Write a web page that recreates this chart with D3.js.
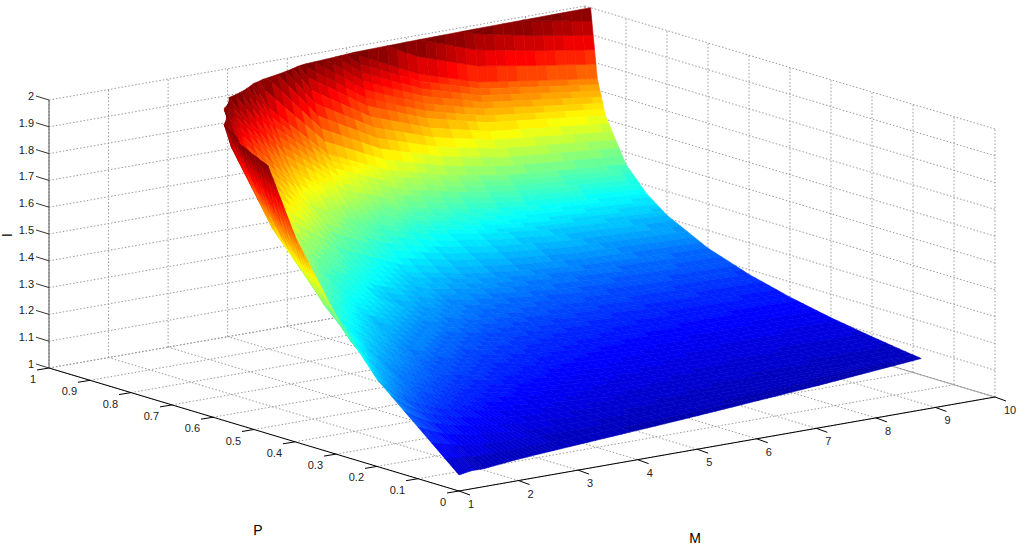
<!DOCTYPE html>
<html><head><meta charset="utf-8">
<script src="https://cdn.jsdelivr.net/npm/d3@7"></script>
<style>body{margin:0;background:#fff}text{font-family:"Liberation Sans",Arial,sans-serif}</style>
</head><body>
<svg id="c" width="1024" height="545"></svg>
<script>
// ---- data ----
const mValues = [1,1.25,1.5,2,2.5,3,4,5,6,7,8,9,10];
const pStart  = [0,0.005,0.01,0.02,0.03,0.04,0.06,0.08,0.10,0.12,0.14,0.16,0.18];
const pRows   = [null,0.2,0.3,0.4,0.5,0.6,0.7,0.8,0.85,0.9,0.95,0.97,0.99,0.999];
const iValues = [
 [1.06,1.064,1.06,1.063,1.063,1.062,1.06,1.058,1.057,1.057,1.057,1.059,1.061],
 [1.325,1.267,1.227,1.177,1.151,1.129,1.105,1.090,1.081,1.074,1.070,1.067,1.065],
 [1.514,1.411,1.342,1.259,1.215,1.182,1.144,1.121,1.108,1.099,1.093,1.090,1.087],
 [1.767,1.595,1.488,1.359,1.295,1.246,1.191,1.158,1.140,1.128,1.120,1.116,1.112],
 [2.12,1.846,1.682,1.489,1.395,1.325,1.249,1.203,1.179,1.163,1.153,1.148,1.143],
 [2.65,2.21,1.953,1.665,1.529,1.429,1.323,1.261,1.229,1.208,1.195,1.188,1.182],
 [3.53,2.78,2.37,1.922,1.720,1.576,1.427,1.339,1.296,1.269,1.251,1.242,1.234],
 [5.3,3.84,3.1,2.35,2.03,1.809,1.585,1.458,1.397,1.360,1.335,1.323,1.311],
 [7.1,4.8,3.8,2.73,2.29,1.995,1.708,1.549,1.473,1.428,1.398,1.383,1.369],
 [10.6,6.7,4.9,3.33,2.71,2.29,1.898,1.687,1.588,1.530,1.492,1.473,1.455],
 [21,11.6,7.8,4.7,3.58,2.89,2.27,1.951,1.805,1.720,1.666,1.640,1.614],
 [35,17.5,11,6.1,4.4,3.47,2.58,2.17,1.984,1.877,1.808,1.775,1.743],
 [106,42,23,10.5,6.9,5.0,3.44,2.73,2.43,2.26,2.16,2.10,2.056],
 [1000,265,108,33,18,11,6.3,4.44,3.72,3.35,3.12,3.0,2.9]
];
const pTicks = [0,0.1,0.2,0.3,0.4,0.5,0.6,0.7,0.8,0.9,1];
const mTicks = [1,2,3,4,5,6,7,8,9,10];
const iTicks = [1,1.1,1.2,1.3,1.4,1.5,1.6,1.7,1.8,1.9,2];
const pTickLabels = ["0","0.1","0.2","0.3","0.4","0.5","0.6","0.7","0.8","0.9","1"];
const iTickLabels = ["1","1.1","1.2","1.3","1.4","1.5","1.6","1.7","1.8","1.9","2"];

// ---- projection via d3 scales ----
const O = [459,491];
const sP = d3.scaleLinear().domain([0,1]).range([0,1]);
const sM = d3.scaleLinear().domain([1,10]).range([0,1]);
const sI = d3.scaleLinear().domain([1,2]).range([0,1]);
const VP=[-410,-123], VM=[536,-94], VI=[0,-268];
function proj(p,m,i){const a=sP(p),b=sM(m),c=sI(i);
  return [O[0]+a*VP[0]+b*VM[0]+c*VI[0], O[1]+a*VP[1]+b*VM[1]+c*VI[1]];}
function depth(p,m,i){return 521*sP(p)+399*sM(m)-63*sI(i);}

const svg=d3.select("#c");
const gridC="#9a9a9a";
function line(a,b,opt){const A=proj(...a),B=proj(...b);
  return svg.append("line").attr("x1",A[0]).attr("y1",A[1]).attr("x2",B[0]).attr("y2",B[1])
   .attr("stroke",opt.c).attr("stroke-width",opt.w||1).attr("stroke-dasharray",opt.d||null);}
const dot={c:gridC,d:"1.5,2",w:1};
pTicks.forEach(p=>line([p,1,1],[p,10,1],dot));
mTicks.forEach(m=>line([0,m,1],[1,m,1],dot));
mTicks.forEach(m=>line([1,m,1],[1,m,2],dot));
iTicks.forEach(i=>line([1,1,i],[1,10,i],dot));
pTicks.forEach(p=>line([p,10,1],[p,10,2],dot));
iTicks.forEach(i=>line([0,10,i],[1,10,i],dot));
line([0,10,1],[1,10,1],{c:"#a0a0a0",w:1});

// ---- surface ----
const jet=t=>{t=Math.max(0,Math.min(1,t));const cl=v=>Math.max(0,Math.min(1,v));
  return d3.rgb(255*cl(1.5-Math.abs(4*t-3)),255*cl(1.5-Math.abs(4*t-2)),255*cl(1.5-Math.abs(4*t-1))).toString();};
const colorOf=i=>jet(Math.floor(sI(i)*63.999)/63);
function pAt(r,c){return r===0?pStart[c]:pRows[r];}
const polys=[];
const N=6;
function clip(poly){const out=[];for(let k=0;k<poly.length;k++){const a=poly[k],b=poly[(k+1)%poly.length];
  const ia=a[2]<=2, ib=b[2]<=2;
  if(ia)out.push(a);
  if(ia!==ib){const t=(2-a[2])/(b[2]-a[2]);out.push([a[0]+t*(b[0]-a[0]),a[1]+t*(b[1]-a[1]),2]);}}
  return out;}
for(let r=0;r<iValues.length-1;r++)for(let c=0;c<mValues.length-1;c++){
  const v=(u,w)=>{
    const p0=pAt(r,c)*(1-w)+pAt(r,c+1)*w, p1=pAt(r+1,c)*(1-w)+pAt(r+1,c+1)*w;
    const i0=iValues[r][c]*(1-w)+iValues[r][c+1]*w, i1=iValues[r+1][c]*(1-w)+iValues[r+1][c+1]*w;
    return [p0+(p1-p0)*u, mValues[c]+(mValues[c+1]-mValues[c])*w, i0+(i1-i0)*u];};
  for(let a=0;a<N;a++)for(let b=0;b<N;b++){
    let q=[v(a/N,b/N),v(a/N,(b+1)/N),v((a+1)/N,(b+1)/N),v((a+1)/N,b/N)];
    if(q.every(x=>x[2]>2))continue;
    q=clip(q); if(q.length<3)continue;
    const mi=d3.mean(q,x=>x[2]);
    polys.push({pts:q,d:d3.mean(q,x=>depth(...x)),col:colorOf(mi)});
  }}
polys.sort((a,b)=>b.d-a.d);
svg.append("g").selectAll("path").data(polys).join("path")
  .attr("d",d=>"M"+d.pts.map(x=>proj(...x).join(",")).join("L")+"Z")
  .attr("fill",d=>d.col).attr("stroke",d=>d.col).attr("stroke-width",0.6).attr("stroke-linejoin","round");

// ---- axes ----
line([0,1,1],[1,1,1],{c:"#000",w:1});
line([0,1,1],[0,10,1],{c:"#000",w:1});
line([1,1,1],[1,1,2],{c:"#555",w:1});
const lab=svg.append("g").attr("font-size",11).attr("fill","#222");
pTicks.forEach((p,k)=>{const A=proj(p,1,1);
  svg.append("line").attr("x1",A[0]).attr("y1",A[1]).attr("x2",A[0]-12).attr("y2",A[1]+2).attr("stroke","#000");
  lab.append("text").attr("x",A[0]-13).attr("y",A[1]+15).attr("text-anchor","end").text(pTickLabels[k]);});
mTicks.forEach(m=>{const A=proj(0,m,1);
  svg.append("line").attr("x1",A[0]).attr("y1",A[1]).attr("x2",A[0]+11).attr("y2",A[1]+4).attr("stroke","#000");
  lab.append("text").attr("x",A[0]+9).attr("y",A[1]+17).attr("text-anchor","start").text(m);});
iTicks.forEach((i,k)=>{const A=proj(1,1,i);
  svg.append("line").attr("x1",A[0]).attr("y1",A[1]).attr("x2",A[0]-13).attr("y2",A[1]-4).attr("stroke","#333");
  lab.append("text").attr("x",A[0]-15).attr("y",A[1]).attr("text-anchor","end").text(iTickLabels[k]);});
svg.append("text").attr("x",258).attr("y",535).attr("font-size",14).attr("text-anchor","middle").text("P");
svg.append("text").attr("x",695).attr("y",543).attr("font-size",14).attr("text-anchor","middle").text("M");
svg.append("text").attr("transform","translate(12,235) rotate(-90)").attr("font-size",14).attr("text-anchor","middle").text("I");
</script></body></html>
